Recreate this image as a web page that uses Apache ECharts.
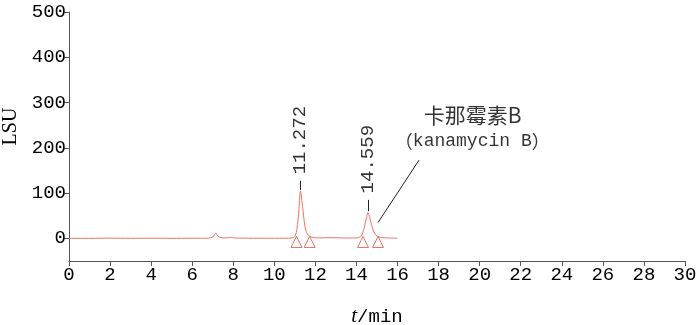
<!DOCTYPE html>
<html>
<head>
<meta charset="utf-8">
<script src="https://cdn.jsdelivr.net/npm/echarts@6/dist/echarts.min.js"></script>
<style>html,body{margin:0;padding:0;background:#fff}#c{width:700px;height:325px}</style>
</head>
<body>
<div id="c"></div>
<script>
// Chromatogram trace (time in min, signal in LSU)
var times = [0, 1, 2, 3, 4, 5, 6, 6.8, 7.0, 7.1, 7.15, 7.2, 7.3, 7.5, 7.8, 7.9, 8.0, 8.5, 9, 10, 10.5, 10.9, 11.0, 11.1, 11.2, 11.27, 11.35, 11.45, 11.55, 11.7, 11.9, 12.2, 12.7, 13.5, 14.0, 14.2, 14.3, 14.4, 14.5, 14.56, 14.65, 14.75, 14.85, 15.0, 15.2, 15.5, 16.0];
var signal = [0, 0, 0.5, 0, 0.3, 0, 0.2, 0.5, 3, 9, 12, 8, 3, 1, 1.5, 2.5, 1, 0.5, 0.3, 0.2, 0.3, 1, 4, 20, 65, 105, 80, 40, 15, 5, 2, 1, 1.5, 0.8, 1, 4, 12, 28, 48, 57, 45, 28, 14, 5, 2, 1, 0.5];
// integration markers (triangles)
var markerTimes = [11.08, 11.72, 14.32, 15.05];
var markerLevel = -8;
// peak retention-time labels
var peakTimes = [11.272, 14.559];
var peakNames = ['11.272', '14.559'];
var peakLineBottom = [107, 60];
var peakLineTop = [127, 85];
// annotation
var annoTitle = '卡那霉素B';
var annoSub = '（kanamycin B）';
var annoTitlePos = [19.66, 272];
var annoSubPos = [19.64, 213];
var leaderFrom = [15.05, 35];
var leaderTo = [17.05, 173];
// axis ticks
var xTicks = [0, 2, 4, 6, 8, 10, 12, 14, 16, 18, 20, 22, 24, 26, 28, 30];
var yTicks = [0, 100, 200, 300, 400, 500];

var traceColor = '#ef7463';
var markColor = '#e5533f';
var axisColor = '#555';

var chart = echarts.init(document.getElementById('c'), null, {renderer: 'canvas'});
chart.setOption({
  animation: false,
  backgroundColor: '#fff',
  grid: {left: 69, right: 15, top: 12, bottom: 64, containLabel: false, outerBoundsMode: 'none'},
  xAxis: {
    type: 'value', min: 0, max: 30, interval: 2,
    axisLine: {show: true, onZero: false, lineStyle: {color: axisColor, width: 1}},
    axisTick: {show: true, length: 5, lineStyle: {color: axisColor}},
    axisLabel: {color: '#000', fontFamily: 'Liberation Mono', fontSize: 19, margin: 4},
    splitLine: {show: false},
    name: '{t|t}{m|/min}',
    nameLocation: 'middle', nameGap: 45,
    nameTextStyle: {
      rich: {
        t: {fontFamily: 'Liberation Serif', fontStyle: 'italic', fontSize: 21, color: '#000'},
        m: {fontFamily: 'Liberation Mono', fontSize: 19, color: '#000'}
      }
    }
  },
  yAxis: {
    type: 'value', min: -50, max: 500, interval: 50,
    axisLine: {show: true, onZero: false, lineStyle: {color: axisColor, width: 1}},
    axisTick: {show: true, length: 5, customValues: yTicks, lineStyle: {color: axisColor}},
    axisLabel: {color: '#000', fontFamily: 'Liberation Mono', fontSize: 19, margin: 3, customValues: yTicks},
    splitLine: {show: false},
    name: 'LSU', nameLocation: 'middle', nameGap: 41, nameRotate: 90,
    nameTextStyle: {fontFamily: 'Liberation Serif', fontSize: 20, color: '#000', padding: [0, 0, 0, 20]}
  },
  series: [
    {
      type: 'line', name: 'trace',
      data: times.map(function (t, i) { return [t, signal[i]]; }),
      smooth: 0.3, symbol: 'none',
      lineStyle: {color: traceColor, width: 1},
      markLine: {
        silent: true, symbol: 'none', label: {show: false},
        lineStyle: {color: '#222', width: 1, type: 'solid'},
        data: peakTimes.map(function (t, i) {
          return [{coord: [t, peakLineBottom[i]]}, {coord: [t, peakLineTop[i]]}];
        }).concat([[{coord: leaderFrom}, {coord: leaderTo}]])
      },
      z: 3
    },
    {
      type: 'scatter', name: 'markers',
      data: markerTimes.map(function (t) { return [t, markerLevel]; }),
      symbol: 'triangle', symbolSize: [11, 11],
      itemStyle: {color: 'rgba(0,0,0,0)', borderColor: markColor, borderWidth: 1},
      z: 4
    },
    {
      type: 'scatter', name: 'peakLabels',
      data: peakTimes.map(function (t, i) { return {value: [t, peakLineTop[i]], name: peakNames[i]}; }),
      symbol: 'circle', symbolSize: 1,
      itemStyle: {color: 'rgba(0,0,0,0)'},
      label: {
        show: true, formatter: '{b}', position: 'top', distance: 6, rotate: 90,
        align: 'left', verticalAlign: 'middle',
        fontFamily: 'Liberation Mono', fontSize: 19, color: '#000'
      }
    },
    {
      type: 'scatter', name: 'annoTitle',
      data: [{value: annoTitlePos, name: annoTitle}],
      symbol: 'circle', symbolSize: 1,
      itemStyle: {color: 'rgba(0,0,0,0)'},
      label: {show: true, formatter: '{b}', position: 'top', distance: 0, verticalAlign: 'middle',
              color: '#000', fontFamily: 'Noto Sans CJK SC', fontSize: 21}
    },
    {
      type: 'scatter', name: 'annoSub',
      data: [{value: annoSubPos, name: annoSub}],
      symbol: 'circle', symbolSize: 1,
      itemStyle: {color: 'rgba(0,0,0,0)'},
      label: {
        show: true, position: 'top', distance: 0, verticalAlign: 'middle', color: '#000',
        formatter: function (p) {
          var s = p.name;
          return '{p|' + s.charAt(0) + '}{k|' + s.slice(1, -1) + '}{p|' + s.charAt(s.length - 1) + '}';
        },
        rich: {
          p: {fontFamily: 'Noto Sans CJK SC', fontSize: 18, color: '#000'},
          k: {fontFamily: 'Liberation Mono', fontSize: 18, color: '#000'}
        }
      }
    }
  ]
});
</script>
</body>
</html>
